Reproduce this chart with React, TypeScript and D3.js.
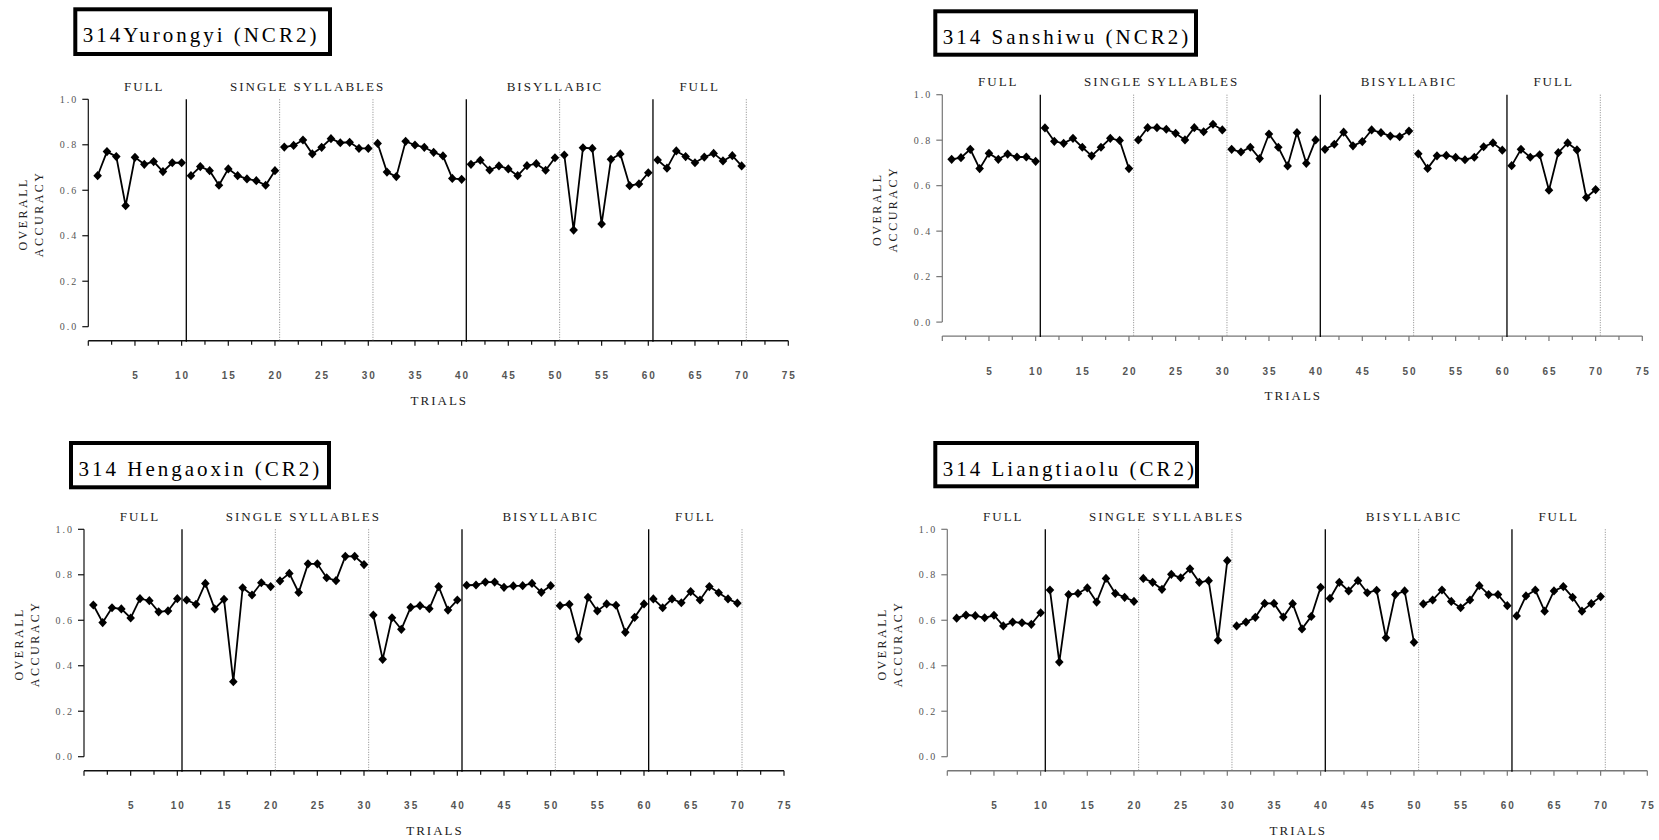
import React from "react";
import * as d3 from "d3";

// Overall accuracy per trial (trials 1–70) for four talkers.
const yurongyi = [
  0.664, 0.770, 0.748, 0.532, 0.745, 0.714, 0.726, 0.682, 0.721, 0.721,
  0.664, 0.704, 0.686, 0.622, 0.694, 0.664, 0.650, 0.642, 0.622, 0.686,
  0.790, 0.797, 0.821, 0.760, 0.789, 0.827, 0.809, 0.811, 0.784, 0.784,
  0.806, 0.680, 0.660, 0.815, 0.799, 0.789, 0.767, 0.751, 0.652, 0.648,
  0.714, 0.732, 0.689, 0.707, 0.694, 0.664, 0.708, 0.717, 0.688, 0.743,
  0.755, 0.425, 0.787, 0.784, 0.452, 0.736, 0.760, 0.620, 0.628, 0.677,
  0.733, 0.697, 0.773, 0.748, 0.721, 0.746, 0.762, 0.729, 0.752, 0.707,
];

const sanshiwu = [
  0.716, 0.723, 0.760, 0.675, 0.742, 0.716, 0.739, 0.726, 0.726, 0.707,
  0.854, 0.795, 0.786, 0.808, 0.769, 0.731, 0.769, 0.808, 0.799, 0.675,
  0.801, 0.855, 0.855, 0.848, 0.830, 0.801, 0.855, 0.837, 0.870, 0.845,
  0.760, 0.748, 0.769, 0.719, 0.827, 0.769, 0.687, 0.833, 0.698, 0.801,
  0.760, 0.782, 0.835, 0.775, 0.794, 0.845, 0.833, 0.818, 0.815, 0.840,
  0.740, 0.676, 0.731, 0.733, 0.724, 0.714, 0.725, 0.771, 0.788, 0.756,
  0.688, 0.760, 0.725, 0.736, 0.580, 0.745, 0.788, 0.757, 0.548, 0.583,
];

const hengaoxin = [
  0.667, 0.590, 0.655, 0.650, 0.610, 0.695, 0.686, 0.637, 0.641, 0.695,
  0.689, 0.670, 0.762, 0.650, 0.692, 0.330, 0.743, 0.711, 0.765, 0.748,
  0.773, 0.806, 0.722, 0.848, 0.848, 0.787, 0.774, 0.881, 0.881, 0.845,
  0.623, 0.428, 0.611, 0.560, 0.657, 0.664, 0.651, 0.748, 0.645, 0.689,
  0.754, 0.755, 0.768, 0.768, 0.745, 0.751, 0.752, 0.762, 0.723, 0.752,
  0.664, 0.670, 0.518, 0.701, 0.641, 0.672, 0.666, 0.547, 0.613, 0.672,
  0.694, 0.655, 0.694, 0.677, 0.726, 0.689, 0.748, 0.721, 0.694, 0.675,
];

const liangtiaolu = [
  0.609, 0.623, 0.620, 0.611, 0.622, 0.575, 0.592, 0.589, 0.582, 0.633,
  0.733, 0.416, 0.713, 0.718, 0.742, 0.680, 0.784, 0.718, 0.701, 0.683,
  0.784, 0.767, 0.736, 0.802, 0.787, 0.826, 0.767, 0.774, 0.512, 0.862,
  0.575, 0.592, 0.613, 0.674, 0.674, 0.614, 0.673, 0.562, 0.617, 0.745,
  0.696, 0.767, 0.729, 0.774, 0.721, 0.732, 0.523, 0.713, 0.729, 0.503,
  0.672, 0.689, 0.733, 0.683, 0.655, 0.689, 0.752, 0.713, 0.713, 0.664,
  0.619, 0.707, 0.733, 0.640, 0.729, 0.748, 0.701, 0.640, 0.673, 0.704,
];

const titles = [
  "314Yurongyi (NCR2)",
  "314 Sanshiwu (NCR2)",
  "314 Hengaoxin (CR2)",
  "314 Liangtiaolu (CR2)",
];

const sectionNames = ["FULL", "SINGLE SYLLABLES", "BISYLLABIC", "FULL"];
const sectionCenters = [6, 23.5, 50, 65.5];

const solidDividers = [10.5, 40.5, 60.5];
const dottedDividers = [20.5, 30.5, 50.5, 70.5];

const xTickLabels = [5, 10, 15, 20, 25, 30, 35, 40, 45, 50, 55, 60, 65, 70, 75];
const yTickLabels = [0, 0.2, 0.4, 0.6, 0.8, 1.0];

// Blocks of ten trials are drawn as separate line runs.
const blockSize = 10;

// Panel placement
const layouts = [
  { axisX: 88.3, top: 99.3, box: { x: 73.3, y: 7.3, w: 258.7, h: 48.7 }, axisColor: "#111" },
  { axisX: 942.3, top: 94.7, box: { x: 933.3, y: 9.3, w: 264.7, h: 47.4 }, axisColor: "#777" },
  { axisX: 84, top: 529.3, box: { x: 69, y: 441, w: 262, h: 48.3 }, axisColor: "#111" },
  { axisX: 947.3, top: 529.3, box: { x: 933.3, y: 441, w: 265.7, h: 47.3 }, axisColor: "#777" },
];

const seriesList = [yurongyi, sanshiwu, hengaoxin, liangtiaolu];

const SERIF = "'Liberation Serif', 'DejaVu Serif', serif";
const SANS = "'Liberation Sans', Arial, sans-serif";

const PLOT_H = 227.4;
const PLOT_W = 700;
const AXIS_GAP = 14;

const diamond = "M0,-4.6L4.3,0L0,4.6L-4.3,0Z";

function Panel({ title, values, layout }) {
  const { axisX, top, box, axisColor } = layout;
  const x = d3.scaleLinear().domain([0, 75]).range([axisX, axisX + PLOT_W]);
  const y = d3.scaleLinear().domain([0, 1]).range([top + PLOT_H, top]);
  const axisY = top + PLOT_H + AXIS_GAP;

  const points = values.map((v, i) => ({ t: i + 1, v }));
  const blocks = d3.groups(points, (p) => Math.floor((p.t - 1) / blockSize)).map((g) => g[1]);
  const line = d3
    .line()
    .x((p) => x(p.t))
    .y((p) => y(p.v));

  const minorTicks = d3.range(0, 75.01, 2.5);

  return (
    <g>
      {/* title box */}
      <rect
        x={box.x + 2}
        y={box.y + 2}
        width={box.w - 4}
        height={box.h - 4}
        fill="#fff"
        stroke="#000"
        strokeWidth={4}
      />
      <text
        x={box.x + 9.5}
        y={box.y + 34.5}
        fontFamily={SERIF}
        fontSize={21}
        letterSpacing={3}
        fill="#000"
      >
        {title}
      </text>

      {/* section labels */}
      {sectionNames.map((s, i) => (
        <text
          key={i}
          x={x(sectionCenters[i])}
          y={top - 8.5}
          textAnchor="middle"
          fontFamily={SERIF}
          fontSize={13}
          letterSpacing={2}
          fill="#222"
        >
          {s}
        </text>
      ))}

      {/* y axis */}
      <line x1={axisX} x2={axisX} y1={y(1)} y2={y(0)} stroke={axisColor} strokeWidth={1.2} />
      {yTickLabels.map((v) => (
        <g key={v}>
          <line x1={axisX - 6} x2={axisX} y1={y(v)} y2={y(v)} stroke={axisColor} strokeWidth={1.2} />
          <text
            x={axisX - 10}
            y={y(v) + 3.5}
            textAnchor="end"
            fontFamily={SERIF}
            fontSize={10}
            letterSpacing={2}
            fill="#555"
          >
            {d3.format(".1f")(v)}
          </text>
        </g>
      ))}
      <text
        transform={`translate(${axisX - 61.5},${top + 114.5}) rotate(-90)`}
        textAnchor="middle"
        fontFamily={SERIF}
        fontSize={12}
        letterSpacing={2.5}
        fill="#222"
      >
        OVERALL
      </text>
      <text
        transform={`translate(${axisX - 45},${top + 114.5}) rotate(-90)`}
        textAnchor="middle"
        fontFamily={SERIF}
        fontSize={12}
        letterSpacing={2.5}
        fill="#222"
      >
        ACCURACY
      </text>

      {/* x axis */}
      <line x1={x(0)} x2={x(75)} y1={axisY} y2={axisY} stroke={axisColor} strokeWidth={1.4} />
      {minorTicks.map((t) => (
        <line
          key={t}
          x1={x(t)}
          x2={x(t)}
          y1={axisY}
          y2={axisY + (t % 5 === 0 ? 5 : 4)}
          stroke={axisColor}
          strokeWidth={1.2}
        />
      ))}
      {xTickLabels.map((t) => (
        <text
          key={t}
          x={x(t) + 1}
          y={axisY + 38.5}
          textAnchor="middle"
          fontFamily={SANS}
          fontWeight="bold"
          fontSize={10}
          letterSpacing={2}
          fill="#555"
        >
          {t}
        </text>
      ))}
      <text
        x={x(37.5) + 1}
        y={axisY + 64}
        textAnchor="middle"
        fontFamily={SERIF}
        fontSize={13}
        letterSpacing={2}
        fill="#222"
      >
        TRIALS
      </text>

      {/* section dividers */}
      {solidDividers.map((t) => (
        <line key={t} x1={x(t)} x2={x(t)} y1={y(1)} y2={axisY + 1} stroke="#000" strokeWidth={1.3} />
      ))}
      {dottedDividers.map((t) => (
        <line
          key={t}
          x1={x(t)}
          x2={x(t)}
          y1={y(1)}
          y2={axisY}
          stroke="#888"
          strokeWidth={1}
          strokeDasharray="1,1.5"
        />
      ))}

      {/* data */}
      {blocks.map((b, i) => (
        <path key={i} d={line(b) || ""} fill="none" stroke="#000" strokeWidth={1.8} />
      ))}
      {points.map((p) => (
        <path key={p.t} d={diamond} transform={`translate(${x(p.t)},${y(p.v)})`} fill="#000" />
      ))}
    </g>
  );
}

export default function App() {
  return (
    <svg
      width={1659}
      height={840}
      style={{ position: "absolute", left: 0, top: 0, background: "#fff" }}
    >
      <rect width={1659} height={840} fill="#fff" />
      {titles.map((t, i) => (
        <Panel key={i} title={t} values={seriesList[i]} layout={layouts[i]} />
      ))}
    </svg>
  );
}
